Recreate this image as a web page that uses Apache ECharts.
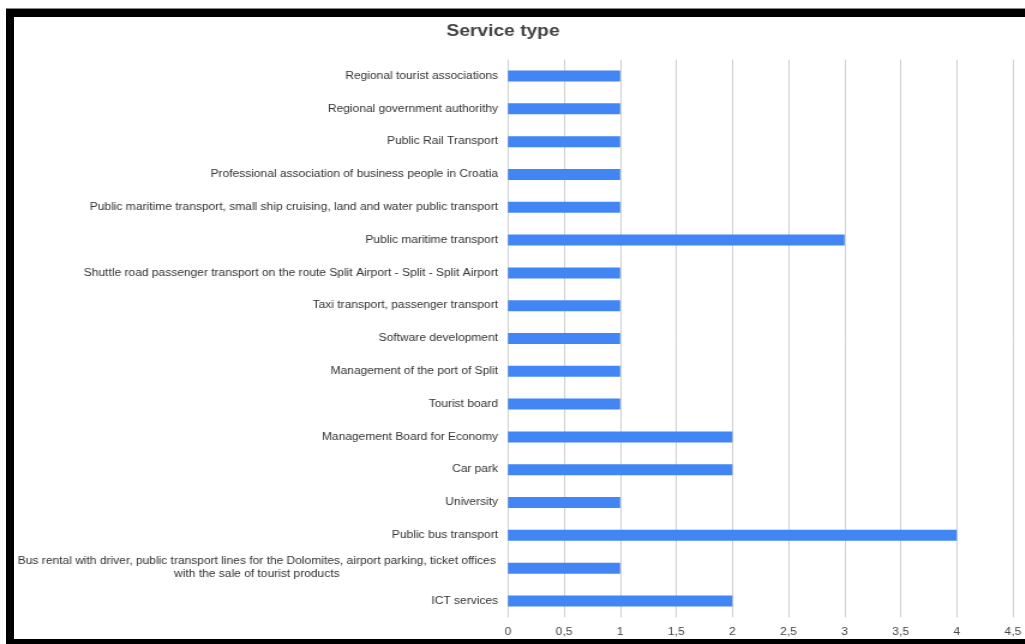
<!DOCTYPE html>
<html>
<head>
<meta charset="utf-8">
<script src="https://cdn.jsdelivr.net/npm/echarts@6/dist/echarts.min.js"></script>
<style>
html,body{margin:0;padding:0;background:#fff;overflow:hidden;}
#c{position:absolute;left:0;top:0;width:854px;height:644px;transform:scaleX(1.2);transform-origin:0 0;}
#frame{position:absolute;left:6px;top:9px;width:1100px;height:622px;border-left:8px solid #000;border-top:8px solid #000;border-bottom:6px solid #000;pointer-events:none;}
#topline{position:absolute;left:6px;top:8px;width:1100px;height:1px;background:#888;}
</style>
</head>
<body>
<div id="c"></div>
<div id="topline"></div>
<div id="frame"></div>
<script>
const title = 'Service type';
const categories = [
  'Regional tourist associations',
  'Regional government authorithy',
  'Public Rail Transport',
  'Professional association of business people in Croatia',
  'Public maritime transport, small ship cruising, land and water public transport',
  'Public maritime transport',
  'Shuttle road passenger transport on the route Split Airport - Split - Split Airport',
  'Taxi transport, passenger transport',
  'Software development',
  'Management of the port of Split',
  'Tourist board',
  'Management Board for Economy',
  'Car park',
  'University',
  'Public bus transport',
  'Bus rental with driver, public transport lines for the Dolomites, airport parking, ticket offices\nwith the sale of tourist products',
  'ICT services'
];
const values = [1, 1, 1, 1, 1, 3, 1, 1, 1, 1, 1, 2, 2, 1, 4, 1, 2];
const xTicks = [0, 0.5, 1, 1.5, 2, 2.5, 3, 3.5, 4, 4.5];

const FONT = 'Liberation Sans, Arial, sans-serif';
const chart = echarts.init(document.getElementById('c'));
chart.setOption({
  animation: false,
  backgroundColor: '#fff',
  title: {
    text: title,
    left: 367,
    top: 19,
    textStyle: {fontFamily: FONT, fontSize: 16, fontWeight: 'bold', color: '#444'}
  },
  grid: {left: 423.3, right: 7.5, top: 59.6, bottom: 26.6, containLabel: false},
  xAxis: {
    type: 'value',
    min: xTicks[0],
    max: xTicks[xTicks.length - 1],
    interval: 0.5,
    axisLine: {show: false},
    axisTick: {show: false},
    splitLine: {lineStyle: {color: '#d0d0d0', width: 1}},
    axisLabel: {
      margin: 10,
      color: '#444',
      fontFamily: FONT,
      fontSize: 10,
      showMaxLabel: true,
      formatter: v => String(v).replace('.', ',')
    }
  },
  yAxis: {
    type: 'category',
    inverse: true,
    data: categories,
    axisLine: {show: false},
    axisTick: {show: false},
    splitLine: {show: false},
    axisLabel: {
      margin: 8.3,
      color: '#333',
      fontFamily: FONT,
      fontSize: 10,
      lineHeight: 13,
      formatter: function (v) {
        if (v.indexOf('\n') >= 0) {
          return v.split('\n').map(s => '{c|' + s + '}').join('\n');
        }
        return v;
      },
      rich: {
        c: {width: 402, align: 'center', fontSize: 10, lineHeight: 13, color: '#333', fontFamily: FONT}
      }
    }
  },
  series: [{
    type: 'bar',
    data: values,
    barWidth: 11,
    itemStyle: {color: '#4285f4'}
  }]
});
</script>
</body>
</html>
